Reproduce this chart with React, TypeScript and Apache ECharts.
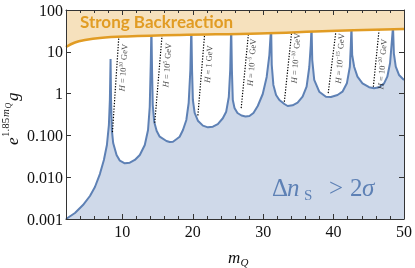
import React, { useEffect, useRef } from 'react';
import * as echarts from 'echarts';

// Blue curve (Δn_s > 2σ boundary)
const curveX = [
  2, 3.27, 4.41, 5.40, 6.11, 6.81, 7.38, 7.81, 8.09, 8.23, 8.33,
  8.40, 8.51, 8.70, 9.18, 9.65, 10.35, 11.06, 11.77, 12.48, 13.19, 13.65, 13.89, 14.04, 14.13,
  14.22, 14.32, 14.53, 14.88, 15.31, 16.26, 16.73, 17.19, 17.72, 18.14, 18.61, 19.09, 19.42, 19.66, 19.80,
  19.90, 20.02, 20.27, 20.73, 21.44, 22.15, 22.86, 23.56, 24.27, 24.75, 25.12, 25.32, 25.46,
  25.56, 25.69, 25.93, 26.35, 26.92, 27.49, 28.05, 28.62, 29.23, 29.94, 30.50, 30.88, 31.13,
  31.22, 31.45, 31.83, 32.30, 33.01, 33.48, 34.18, 34.89, 35.60, 36.17, 36.55, 36.76, 36.87,
  36.97, 37.25, 37.96, 38.91, 39.62, 40.56, 41.26, 41.89, 42.31, 42.45, 42.54,
  42.64, 42.92, 43.39, 44.10, 45.04, 45.75, 46.46, 47.17, 47.63, 48.02, 48.23, 48.44,
  48.56, 48.83, 49.29, 50,
];
const curveY = [
  0.001, 0.00139, 0.00216, 0.00355, 0.00583, 0.0119, 0.0258, 0.0589, 0.177, 0.703, 6.7,
  0.703, 0.135, 0.0658, 0.034, 0.0248, 0.0215, 0.0222, 0.0258, 0.034, 0.0589, 0.135, 0.478, 5.4, 40,
  3.67, 0.534, 0.209, 0.127, 0.093, 0.0735, 0.0695, 0.0707, 0.082, 0.093, 0.135, 0.234, 0.596, 3.67, 40,
  3.67, 0.703, 0.344, 0.225, 0.171, 0.156, 0.162, 0.187, 0.257, 0.369, 0.829, 3.67, 40,
  3.67, 0.703, 0.453, 0.344, 0.299, 0.283, 0.291, 0.344, 0.505, 0.978, 2.5, 8.38, 40,
  4.83, 1.61, 0.926, 0.703, 0.564, 0.505, 0.525, 0.606, 0.843, 1.46, 4.33, 14.5, 40,
  6.37, 2.12, 1.11, 0.843, 0.829, 0.926, 1.11, 1.76, 4.4, 14.5, 40,
  8.38, 4.4, 2.54, 1.76, 1.42, 1.34, 1.42, 1.76, 2.54, 5.31, 14.5, 40,
  9.2, 4.4, 2.79, 2.12,
];

// Strong backreaction boundary
const backX = [2, 3.27, 4.69, 6.81, 10.64, 18.14, 29.47, 39.38, 50];
const backY = [13.0, 16.7, 19.1, 21.4, 23.2, 25.2, 27.4, 31.5, 35.1];

// Dotted H lines: top and bottom ends
const hTopX = [9.5, 15.64, 21.68, 27.91, 34.04, 40.33, 46.46];
const hTopY = [22.7, 24.5, 25.8, 27.1, 29.0, 31.0, 33.5];
const hBotX = [8.6, 14.6, 20.73, 26.88, 33.01, 39.24, 45.65];
const hBotY = [0.12, 0.2, 0.3, 0.45, 0.64, 1.03, 1.46];

// H labels
const hLabelX = [10.03, 16.26, 22.15, 28.27, 34.52, 40.8, 46.81];
const hLabelY = [4.2, 4.83, 5.1, 5.6, 7.1, 7.0, 5.1];
const hBase = ['10', '10', '1', '10', '10', '10', '10'];
const hExp = ['10', '5', '', '\u22125', '\u221210', '\u221215', '\u221220'];

const xMajor = [10, 20, 30, 40, 50];
const yTicks = [0.001, 0.01, 0.1, 1, 10, 100];
const yTickLabels = ['0.001', '0.010', '0.100', '1', '10', '100'];

const SERIF = '"Liberation Serif", "Times New Roman", serif';
const FRAME = '#333';
const BLUE = '#5E81B5';
const ORANGE = '#E19C24';

function yFmt(v: number) {
  for (let i = 0; i < yTicks.length; i++) {
    if (Math.abs(Math.log10(v) - Math.log10(yTicks[i])) < 1e-6) return yTickLabels[i];
  }
  return '';
}

export default function App() {
  const ref = useRef<HTMLDivElement>(null);
  useEffect(() => {
    const chart = echarts.init(ref.current!, null, { renderer: 'svg' });
    const xBase = (pos: string, major: boolean, labels: boolean) => ({
      type: 'value',
      min: 2,
      max: 50,
      position: pos,
      z: 10,
      ...(major ? {} : { interval: 2 }),
      axisLine: { show: major, onZero: false, lineStyle: { color: FRAME, width: 1 } },
      axisTick: major
        ? { show: true, inside: true, length: 5, customValues: xMajor, lineStyle: { color: FRAME } }
        : { show: true, inside: true, length: 3, lineStyle: { color: FRAME } },
      axisLabel: labels
        ? { show: true, customValues: xMajor, fontSize: 16, fontFamily: SERIF, color: '#111', margin: 4 }
        : { show: false },
      splitLine: { show: false },
    });
    const yBase = (pos: string, labels: boolean) => ({
      type: 'log',
      logBase: 10,
      min: 0.001,
      max: 100,
      position: pos,
      z: 10,
      axisLine: { show: true, onZero: false, lineStyle: { color: FRAME, width: 1 } },
      axisTick: { show: true, inside: true, length: 5, customValues: yTicks, lineStyle: { color: FRAME } },
      axisLabel: labels
        ? { show: true, customValues: yTicks, formatter: yFmt, fontSize: 16, fontFamily: SERIF, color: '#111', margin: 3 }
        : { show: false },
      splitLine: { show: false },
    });

    const dotted = hTopX.map((_, i) => ({
      type: 'line',
      xAxisIndex: 0,
      yAxisIndex: 0,
      data: [[hBotX[i], hBotY[i]], [hTopX[i], hTopY[i]]],
      symbol: 'none',
      z: 3,
      lineStyle: { color: '#000', width: 1.2, type: [1.3, 1.5] },
      silent: true,
    }));

    chart.setOption({
      animation: false,
      grid: { left: 66, top: 10, right: 10, bottom: 49 },
      xAxis: [xBase('bottom', true, true), xBase('bottom', false, false), xBase('top', true, false), xBase('top', false, false)],
      yAxis: [yBase('left', true), yBase('right', false)],
      graphic: [
        {
          type: 'text', x: 80, y: 21.5, z: 20,
          style: { text: 'Strong Backreaction', font: 'bold 17px Lato', fill: ORANGE, verticalAlign: 'middle' },
        },
        {
          type: 'group', x: 12, y: 116, rotation: Math.PI / 2, z: 20,
          children: [
            { type: 'text', x: -29, y: 0, style: { text: 'e', font: `italic 17px ${SERIF}`, fill: '#111', verticalAlign: 'middle' } },
            { type: 'text', x: -21, y: -7, style: { text: '1.85', font: `11px ${SERIF}`, fill: '#111', verticalAlign: 'middle' } },
            { type: 'text', x: -1, y: -7, style: { text: 'm', font: `italic 11px ${SERIF}`, fill: '#111', verticalAlign: 'middle' } },
            { type: 'text', x: 7.5, y: -4, style: { text: 'Q', font: `italic 8px ${SERIF}`, fill: '#111', verticalAlign: 'middle' } },
            { type: 'text', x: 15, y: 0, style: { text: 'g', font: `italic 17px ${SERIF}`, fill: '#111', verticalAlign: 'middle' } },
          ],
        },
        { type: 'text', x: 228, y: 257, z: 20, style: { text: 'm', font: `italic 17px ${SERIF}`, fill: '#111', verticalAlign: 'middle' } },
        { type: 'text', x: 240.5, y: 262, z: 20, style: { text: 'Q', font: `italic 11px ${SERIF}`, fill: '#111', verticalAlign: 'middle' } },
        { type: 'text', x: 272, y: 187, z: 20, style: { text: '\u0394', font: `25px ${SERIF}`, fill: BLUE, verticalAlign: 'middle' } },
        { type: 'text', x: 287, y: 187, z: 20, style: { text: 'n', font: `italic 25px ${SERIF}`, fill: BLUE, verticalAlign: 'middle' } },
        { type: 'text', x: 304, y: 195, z: 20, style: { text: 'S', font: `15px ${SERIF}`, fill: BLUE, verticalAlign: 'middle' } },
        { type: 'text', x: 329, y: 187, z: 20, style: { text: '>', font: `25px ${SERIF}`, fill: BLUE, verticalAlign: 'middle' } },
        { type: 'text', x: 350, y: 187, z: 20, style: { text: '2', font: `25px ${SERIF}`, fill: BLUE, verticalAlign: 'middle' } },
        { type: 'text', x: 362, y: 187, z: 20, style: { text: '\u03C3', font: `italic 25px ${SERIF}`, fill: BLUE, verticalAlign: 'middle' } },
      ],
      series: [
        {
          type: 'line',
          xAxisIndex: 0,
          yAxisIndex: 0,
          data: curveX.map((x, i) => [x, curveY[i]]),
          symbol: 'none',
          z: 2,
          lineStyle: { color: BLUE, width: 2 },
          areaStyle: { color: '#CFD9E9', opacity: 1, origin: 'start' },
          silent: true,
        },
        ...dotted,
        {
          type: 'line',
          xAxisIndex: 0,
          yAxisIndex: 0,
          data: backX.map((x, i) => [x, backY[i]]),
          symbol: 'none',
          smooth: 0.4,
          z: 4,
          lineStyle: { color: ORANGE, width: 2.5 },
          areaStyle: { color: '#F6E1BD', opacity: 1, origin: 'end' },
          silent: true,
        },
        {
          type: 'scatter',
          xAxisIndex: 0,
          yAxisIndex: 0,
          symbolSize: 0,
          z: 5,
          silent: true,
          data: hLabelX.map((x, i) => [x, hLabelY[i]]),
          label: {
            show: true,
            position: 'inside',
            rotate: 86,
            color: '#111',
            fontFamily: SERIF,
            formatter: (p: any) => {
              const i = p.dataIndex;
              const e = hExp[i] ? `{s|${hExp[i]}}` : '';
              return `{i|H}{a| = ${hBase[i]}}${e}{a| GeV}`;
            },
            rich: {
              i: { fontSize: 8.5, fontStyle: 'italic', fontFamily: SERIF, color: '#111', lineHeight: 10, verticalAlign: 'bottom' },
              a: { fontSize: 8.5, fontFamily: SERIF, color: '#111', lineHeight: 10, verticalAlign: 'bottom' },
              s: { fontSize: 5.5, fontFamily: SERIF, color: '#111', lineHeight: 6, verticalAlign: 'top' },
            },
          },
        },
      ],
    });
    return () => chart.dispose();
  }, []);
  return <div ref={ref} style={{ position: 'fixed', left: 0, top: 0, width: 415, height: 268 }} />;
}
